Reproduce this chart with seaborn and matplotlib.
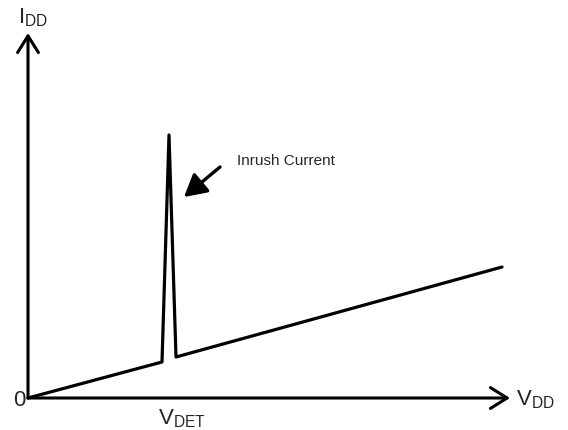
import matplotlib
matplotlib.use("Agg")
import matplotlib.pyplot as plt
import seaborn as sns
import pandas as pd

# Supply voltage vs. supply current, with the inrush spike at V_DET
vdd = [0.0, 2.68, 2.82, 2.96, 9.48]
idd = [0.0, 0.72, 5.26, 0.82, 2.62]

# Axis extents (arrow tips)
x_axis_end = 9.64
y_axis_end = 7.30

sns.set_theme(style="white")
plt.rcParams["font.family"] = ["Liberation Sans", "DejaVu Sans"]
plt.rcParams["mathtext.fontset"] = "custom"
plt.rcParams["mathtext.rm"] = "Liberation Sans"
plt.rcParams["mathtext.it"] = "Liberation Sans"

fig = plt.figure(figsize=(5.68, 4.30), dpi=100)
ax = fig.add_axes([0, 0, 1, 1])
ax.set_xlim(-0.56, 10.80)
ax.set_ylim(-0.64, 7.96)
ax.axis("off")

df = pd.DataFrame({"VDD": vdd, "IDD": idd})
sns.lineplot(data=df, x="VDD", y="IDD", sort=False, estimator=None,
             color="black", linewidth=2.3, ax=ax)

axis_arrow = dict(arrowstyle="->,head_length=0.8,head_width=0.5",
                  mutation_scale=15, color="black", lw=2.2,
                  shrinkA=0, shrinkB=0)
ax.annotate("", xy=(x_axis_end, 0), xytext=(0, 0), arrowprops=axis_arrow)
ax.annotate("", xy=(0, y_axis_end), xytext=(0, 0), arrowprops=axis_arrow)

# Axis labels
ax.text(-0.20, 7.50, r"$\mathregular{I_{DD}}$", fontsize=16,
        ha="left", va="baseline")
ax.text(9.76, -0.03, r"$\mathregular{V_{DD}}$", fontsize=16,
        ha="left", va="center")
ax.text(2.60, -0.18, r"$\mathregular{V_{DET}}$", fontsize=16,
        ha="left", va="top")
ax.text(-0.06, -0.04, "0", fontsize=16, ha="right", va="center")

# Inrush current callout: pointer arrow and its label
ax.annotate("", xy=(3.12, 4.02), xytext=(3.84, 4.62),
            arrowprops=dict(arrowstyle="-|>,head_length=0.9,head_width=0.5",
                            mutation_scale=15, color="black", lw=2.4,
                            shrinkA=0, shrinkB=0))
ax.text(4.18, 4.74, "Inrush Current", fontsize=11, ha="left", va="center")

fig.savefig("out.png", dpi=100)
